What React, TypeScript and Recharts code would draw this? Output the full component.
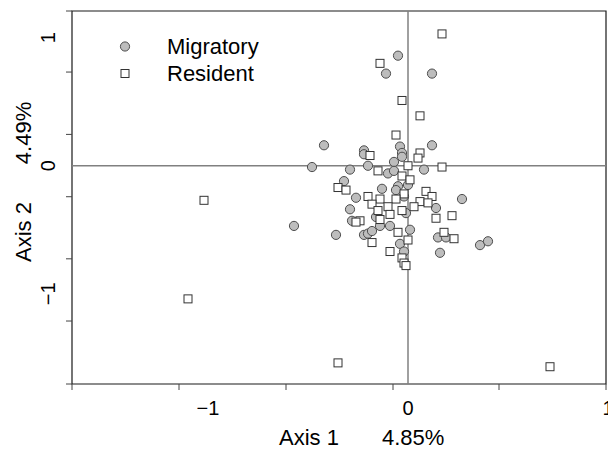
import React from "react";
import {
  ScatterChart,
  Scatter,
  XAxis,
  YAxis,
  ReferenceLine,
  ReferenceArea,
  Legend,
} from "recharts";

// scores (axis 1 / axis 2)
const MIGRATORY_X = [
  -0.42, -0.22, -0.22, -0.04, -0.03, -0.03, 0.12, -0.07, -0.48, -0.29, -0.2,
  -0.1, -0.07, 0.08, -0.32, 0.0, -0.05, -0.13, -0.06, -0.26, -0.02, 0.27, -0.29,
  0.14, -0.16, -0.01, -0.28, -0.14, -0.09, -0.57, -0.36, -0.22, -0.2, -0.18,
  0.01, 0.15, 0.19, -0.04, 0.36, 0.4, 0.16, -0.02, -0.05, -0.11, 0.12,
];
const MIGRATORY_Y = [
  0.16, 0.12, 0.09, 0.15, 0.1, 0.07, 0.16, 0.03, -0.01, -0.03, 0.0, -0.06,
  -0.04, -0.03, -0.12, -0.15, -0.16, -0.18, -0.19, -0.25, -0.24, -0.26, -0.34,
  -0.33, -0.4, -0.37, -0.43, -0.47, -0.47, -0.47, -0.54, -0.54, -0.53, -0.51,
  -0.5, -0.56, -0.56, -0.61, -0.62, -0.59, -0.68, -0.67, 0.86, 0.72, 0.72,
];
const RESIDENT_X = [
  0.17, -0.14, -0.03, 0.06, -0.06, 0.06, 0.05, -0.19, 0.0, 0.17, -0.15, -0.03,
  0.01, -0.35, -0.31, 0.09, 0.12, -0.2, -0.02, -0.14, -0.06, 0.06, 0.1, -0.18,
  0.03, -0.1, -0.03, -0.15, -0.09, -0.14, 0.14, 0.22, -0.24, -0.26, -0.05,
  0.18, 0.23, 0.0, -0.18, -0.09, -0.03, -0.02, -0.01, -1.02, -1.1, -0.35, 0.71,
];
const RESIDENT_Y = [
  1.03, 0.8, 0.51, 0.39, 0.24, 0.1, 0.06, 0.08, 0.0, -0.01, -0.04, -0.08,
  -0.11, -0.17, -0.19, -0.2, -0.24, -0.24, -0.22, -0.26, -0.26, -0.28, -0.29,
  -0.3, -0.32, -0.32, -0.35, -0.35, -0.38, -0.42, -0.41, -0.39, -0.43, -0.44,
  -0.52, -0.52, -0.57, -0.58, -0.6, -0.67, -0.72, -0.76, -0.78, -0.27, -1.04,
  -1.54, -1.57,
];

const X_DOMAIN = [-1.68, 0.99];
const Y_DOMAIN = [-1.705, 1.209];
const X_TICK_MARKS = [-1.68, -1.145, -0.61, -0.075, 0.455, 0.99];
const Y_TICK_MARKS = [1.209, 0.732, 0.245, -0.242, -0.727, -1.213, -1.705];
const X_LABEL_VALUES = [-1, 0, 1];
const Y_LABEL_VALUES = [1, 0, -1];
const fmt = (v: number) => (v < 0 ? "\u2212" + Math.abs(v) : String(v));

const FONT = "'Liberation Sans', Arial, Helvetica, sans-serif";
const FRAME = "#1a1a1a";
const CROSS = "#808080";

const migratory = MIGRATORY_X.map((x, i) => ({ x, y: MIGRATORY_Y[i] }));
const resident = RESIDENT_X.map((x, i) => ({ x, y: RESIDENT_Y[i] }));

const CircleDot = ({ cx, cy }: any) => (
  <circle cx={cx} cy={cy} r={4.6} fill="#bdbdbd" stroke="#4d4d4d" strokeWidth={1} />
);
const SquareDot = ({ cx, cy }: any) => (
  <rect x={cx - 4} y={cy - 4} width={8} height={8} fill="#fff" stroke="#333" strokeWidth={1} />
);

function XTick({ x, y, payload }: any) {
  const v = payload.value;
  if (X_LABEL_VALUES.includes(v)) {
    return (
      <text x={x} y={y + 31} textAnchor="middle" fontSize={20} fontFamily={FONT} fill="#000">
        {fmt(v)}
      </text>
    );
  }
  return <line x1={x} x2={x} y1={y} y2={y + 6} stroke="#444" />;
}

function YTick({ x, y, payload }: any) {
  const v = payload.value;
  if (Y_LABEL_VALUES.includes(v)) {
    const tx = x - 17;
    return (
      <text
        x={tx}
        y={y}
        transform={`rotate(-90 ${tx} ${y})`}
        textAnchor="middle"
        fontSize={20}
        fontFamily={FONT}
        fill="#000"
      >
        {fmt(v)}
      </text>
    );
  }
  return <line x1={x - 6} x2={x} y1={y} y2={y} stroke="#444" />;
}

function XTitle({ viewBox }: any) {
  const { x, y } = viewBox;
  return (
    <g fontSize={22} fontFamily={FONT} fill="#000">
      <text x={x + 207} y={y + 61}>Axis 1</text>
      <text x={x + 310} y={y + 61}>4.85%</text>
    </g>
  );
}

function YTitle({ viewBox }: any) {
  const { y } = viewBox;
  const bx = 31;
  const a = y + 221;
  const b = y + 122;
  return (
    <g fontSize={22} fontFamily={FONT} fill="#000">
      <text x={bx} y={a} textAnchor="middle" transform={`rotate(-90 ${bx} ${a})`}>
        Axis 2
      </text>
      <text x={bx} y={b} textAnchor="middle" transform={`rotate(-90 ${bx} ${b})`}>
        4.49%
      </text>
    </g>
  );
}

function LegendBox({ payload }: any) {
  return (
    <div style={{ fontFamily: FONT, fontSize: 22, lineHeight: "27px" }}>
      {(payload || []).map((p: any) => (
        <div key={p.value} style={{ display: "flex", alignItems: "center" }}>
          <svg width={57} height={27}>
            {p.value === "Migratory" ? (
              <circle cx={15} cy={13.5} r={4.6} fill="#bdbdbd" stroke="#4d4d4d" />
            ) : (
              <rect x={11} y={9.5} width={8} height={8} fill="#fff" stroke="#333" />
            )}
          </svg>
          <span>{p.value}</span>
        </div>
      ))}
    </div>
  );
}

export default function App() {
  return (
    <div style={{ width: 608, height: 454, background: "#fff" }}>
      <style>{"body{margin:0}"}</style>
      <ScatterChart
        width={608}
        height={454}
        margin={{ top: 11, right: 2, bottom: 0, left: 0 }}
      >
        <XAxis
          type="number"
          dataKey="x"
          domain={X_DOMAIN}
          ticks={[...X_TICK_MARKS, ...X_LABEL_VALUES]}
          interval={0}
          tickSize={0}
          tickMargin={0}
          tickLine={false}
          axisLine={false}
          allowDataOverflow
          height={70}
          tick={<XTick />}
          label={(p: any) => <XTitle {...p} />}
        />
        <YAxis
          type="number"
          dataKey="y"
          domain={Y_DOMAIN}
          ticks={[...Y_TICK_MARKS, ...Y_LABEL_VALUES]}
          interval={0}
          tickSize={0}
          tickMargin={0}
          tickLine={false}
          axisLine={false}
          allowDataOverflow
          width={72}
          tick={<YTick />}
          label={(p: any) => <YTitle {...p} />}
        />
        <ReferenceArea
          x1={X_DOMAIN[0]}
          x2={X_DOMAIN[1]}
          y1={Y_DOMAIN[0]}
          y2={Y_DOMAIN[1]}
          fill="none"
          stroke={FRAME}
          strokeWidth={1.2}
        />
        <ReferenceLine x={0} stroke={CROSS} strokeWidth={1.5} />
        <ReferenceLine y={0} stroke={CROSS} strokeWidth={1.5} />
        <Legend
          layout="vertical"
          verticalAlign="middle"
          align="center"
          content={<LegendBox />}
          wrapperStyle={{ left: 110, top: 33, width: 200 }}
        />
        <Scatter
          name="Migratory"
          data={migratory}
          fill="#bdbdbd"
          shape={<CircleDot />}
          isAnimationActive={false}
        />
        <Scatter
          name="Resident"
          data={resident}
          fill="#fff"
          shape={<SquareDot />}
          isAnimationActive={false}
        />
      </ScatterChart>
    </div>
  );
}
